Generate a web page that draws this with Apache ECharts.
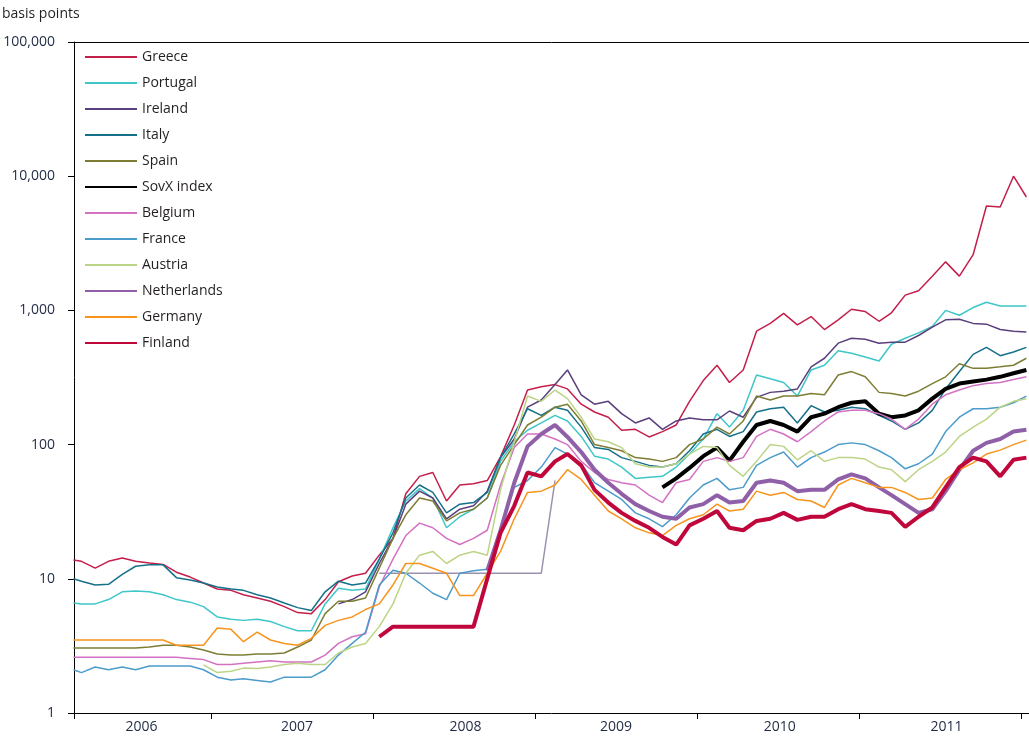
<!DOCTYPE html>
<html><head><meta charset="utf-8">
<script src="https://cdn.jsdelivr.net/npm/echarts@6/dist/echarts.min.js"></script>
<style>html,body{margin:0;padding:0;background:#fff}#c{width:1029px;height:740px}</style>
</head><body><div id="c"></div>
<script>
const dates = ['2006-02-25',
'2006-03-15','2006-04-15','2006-05-15','2006-06-15','2006-07-15','2006-08-15','2006-09-15','2006-10-15','2006-11-15','2006-12-15',
'2007-01-15','2007-02-15','2007-03-15','2007-04-15','2007-05-15','2007-06-15','2007-07-15','2007-08-15','2007-09-15','2007-10-15','2007-11-15','2007-12-15',
'2008-01-15','2008-02-15','2008-03-15','2008-04-15','2008-05-15','2008-06-15','2008-07-15','2008-08-15','2008-09-15','2008-10-15','2008-11-15','2008-12-15',
'2009-01-15','2009-02-15','2009-03-15','2009-04-15','2009-05-15','2009-06-15','2009-07-15','2009-08-15','2009-09-15','2009-10-15','2009-11-15','2009-12-15',
'2010-01-15','2010-02-15','2010-03-15','2010-04-15','2010-05-15','2010-06-15','2010-07-15','2010-08-15','2010-09-15','2010-10-15','2010-11-15','2010-12-15',
'2011-01-15','2011-02-15','2011-03-15','2011-04-15','2011-05-15','2011-06-15','2011-07-15','2011-08-15','2011-09-15','2011-10-15','2011-11-15','2011-12-15',
'2012-01-13'];

const greece = [13.8,13.5,12.0,13.5,14.3,13.5,13.1,12.8,11.2,10.3,9.3,8.4,8.2,7.6,7.2,6.8,6.2,5.6,5.5,7,9.5,10.5,11,15,20,43,58,62,38,50,51,54,81,140,255,270,280,260,200,175,160,128,130,114,125,140,210,300,390,290,360,700,800,950,780,900,720,850,1020,980,830,960,1300,1400,1800,2300,1800,2600,6000,5900,10000,7000];
const portugal = [6.6,6.5,6.5,7.0,8.0,8.1,8,7.6,7.0,6.7,6.2,5.2,5,4.9,5,4.8,4.4,4.1,4.1,6.5,8.5,8.2,8.4,14,24,38,47,40,24,29,33,40,75,105,128,145,165,150,115,82,78,68,56,57,58,68,85,110,170,135,180,330,310,290,230,360,390,500,480,450,420,560,620,680,760,1000,920,1050,1150,1080,1080,1080];
const ireland = [null,null,null,null,null,null,null,null,null,null,null,null,null,null,null,null,null,null,null,null,6.5,7,8,13,20,36,45,40,28,33,35,45,80,110,190,215,280,360,235,200,210,170,145,158,130,150,158,153,153,178,160,225,245,250,260,380,440,570,620,610,570,580,580,650,750,850,860,800,790,720,700,690];
const italy = [10,9.6,9.0,9.1,10.8,12.4,12.7,12.7,10.2,9.8,9.3,8.7,8.4,8.2,7.6,7.2,6.6,6.1,5.8,8,9.6,9,9.3,14,22,40,50,44,31,36,37,44,80,120,185,165,190,180,135,95,92,80,75,70,68,72,90,120,130,115,125,175,185,190,145,195,175,180,190,185,165,150,130,145,180,260,350,470,530,460,490,530];
const spain = [3.05,3.05,3.05,3.05,3.05,3.05,3.1,3.2,3.2,3.1,2.95,2.75,2.7,2.7,2.75,2.75,2.8,3.1,3.5,5.5,6.8,6.8,7.2,12,20,30,40,38,27,31,33,40,70,100,140,160,190,200,150,100,95,90,80,78,75,80,100,110,135,120,150,230,215,230,230,240,235,330,350,320,245,240,230,250,285,320,400,370,370,380,390,440];
const sovx = [null,null,null,null,null,null,null,null,null,null,null,null,null,null,null,null,null,null,null,null,null,null,null,null,null,null,null,null,null,null,null,null,null,null,null,null,null,null,null,null,null,null,null,null,48,56,67,82,95,76,105,140,150,140,125,160,170,190,205,210,170,160,165,180,220,260,285,295,305,320,340,360];
const belgium = [2.6,2.6,2.6,2.6,2.6,2.6,2.6,2.6,2.6,2.55,2.5,2.3,2.3,2.35,2.4,2.45,2.4,2.4,2.4,2.7,3.3,3.7,3.9,8.7,14,21,26,24,20,18,20,23,50,95,120,120,110,100,75,62,55,52,50,42,37,52,55,75,80,75,80,115,130,120,105,125,150,175,180,180,170,155,130,155,200,235,255,275,285,290,305,320];
const france = [2.1,2.0,2.2,2.1,2.2,2.1,2.24,2.24,2.24,2.24,2.1,1.85,1.76,1.8,1.75,1.7,1.85,1.85,1.85,2.1,2.7,3.3,4,9,11.6,11,9.3,7.8,7,11,11.5,11.8,24,48,54,68,95,85,72,52,45,39,31,28,24.5,30,40,50,56,46,48,70,80,88,68,80,88,100,103,100,90,80,66,72,85,125,160,185,185,190,205,230];
const austria = [null,null,null,null,null,null,null,null,null,null,2.28,2.0,2.05,2.16,2.15,2.2,2.3,2.35,2.3,2.3,2.8,3.1,3.3,4.4,6.5,11,15,16,13,15,16,15,46,105,230,210,255,220,160,110,105,95,72,68,68,72,85,97,95,70,58,75,100,97,77,90,75,80,80,78,68,65,53,65,75,88,115,135,155,190,210,220];
const netherlands = [null,null,null,null,null,null,null,null,null,null,null,null,null,null,null,null,null,null,null,null,null,null,null,null,null,null,null,null,null,null,null,11.5,23,52,97,120,140,114,88,65,52,43,36,32,29,28,34,36,42,37,38,52,54,52,45,46,46,55,60,56,48,42,36,31,33,45,65,90,103,110,125,129];
const germany = [3.5,3.5,3.5,3.5,3.5,3.5,3.5,3.5,3.2,3.2,3.2,4.3,4.2,3.4,4.0,3.5,3.3,3.2,3.6,4.5,4.9,5.2,5.9,6.5,9,13,13,12,11,7.5,7.5,11,16,28,44,45,50,65,55,42,32,28,24,22,21,25,28,30,36,32,33,45,42,44,39,38,34,50,56,52,48,48,44,39,40,55,65,73,85,91,100,108];
const finland = [null,null,null,null,null,null,null,null,null,null,null,null,null,null,null,null,null,null,null,null,null,null,null,3.7,4.4,4.4,4.4,4.4,4.4,4.4,4.4,10,22,35,62,58,75,85,70,46,37,31,27,24,20.5,18,25,28,32,24,23,27,28,31,27.5,29,29,33,36,33,32,31,24.4,29,34,48,68,80,75,58,77,80];
const staleQuote = [null,null,null,null,null,null,null,null,null,null,null,null,null,null,null,null,null,null,null,null,null,null,null,11,11,11,11,11,11,11,11,11,11,11,11,11,54,null,null,null,null,null,null,null,null,null,null,null,null,null,null,null,null,null,null,null,null,null,null,null,null,null,null,null,null,null,null,null,null,null,null,null];

const yearLabels = ['2006','2007','2008','2009','2010','2011'];
const yearLabelPos = [2006.57,2007.53,2008.57,2009.5,2010.51,2011.54];
const yearTicks = [2006.154,2007,2008,2009,2010,2011,2012];

function toYear(s){const p=s.split('-').map(Number);const t=Date.UTC(p[0],p[1]-1,p[2]);const a=Date.UTC(p[0],0,1),b=Date.UTC(p[0]+1,0,1);return p[0]+(t-a)/(b-a);}
const xs = dates.map(toYear);

const seriesDefs = [
  ['Greece', greece, '#c41e4a', 1.5],
  ['Portugal', portugal, '#3ec6c8', 1.5],
  ['Ireland', ireland, '#5a3f7d', 1.5],
  ['Italy', italy, '#15708a', 1.5],
  ['Spain', spain, '#7d7d34', 1.5],
  ['SovX index', sovx, '#000000', 4],
  ['Belgium', belgium, '#d372c3', 1.5],
  ['France', france, '#4b9ccb', 1.5],
  ['Austria', austria, '#bcd486', 1.5],
  ['Netherlands', netherlands, '#8f5fa8', 4],
  ['Germany', germany, '#f7941d', 1.5],
  ['Finland', finland, '#c0073c', 4]
];

const font = '"Open Sans", "Noto Sans", sans-serif';
const series = [{
  name: 'stale', type: 'line', data: xs.map((x,i)=>[x, staleQuote[i]]),
  symbol: 'none', showSymbol: false, lineStyle: {color: '#9d90ae', width: 1.5}, itemStyle:{color:'#9d90ae'}, z: 1
}].concat(seriesDefs.map(d => ({
  name: d[0], type: 'line', data: xs.map((x,i)=>[x, d[1][i]]),
  symbol: 'none', showSymbol: false,
  lineStyle: {color: d[2], width: d[3]}, itemStyle: {color: d[2]}
})));

const chart = echarts.init(document.getElementById('c'));
chart.setOption({
  animation: false,
  backgroundColor: '#fff',
  title: {text: 'basis points', left: 2, top: 4, padding: 0, textStyle: {fontSize: 14, fontWeight: 'normal', color: '#231f20', fontFamily: font, lineHeight: 20}},
  legend: {
    data: seriesDefs.map(d => d[0]), orient: 'vertical', left: 84, top: 50, padding: 0,
    itemWidth: 52, itemHeight: 14, itemGap: 12,
    itemStyle: {opacity: 0},
    textStyle: {fontSize: 14, color: '#231f20', fontFamily: font}
  },
  grid: {left: 74, right: 0, top: 42, bottom: 27},
  xAxis: [{
    type: 'value', min: 2006.154, max: 2012.049, position: 'bottom',
    splitLine: {show: false},
    axisLine: {show: true, lineStyle: {color: '#000', width: 1}},
    axisTick: {show: true, customValues: yearTicks, length: 6, lineStyle: {color: '#000'}},
    axisLabel: {customValues: yearLabelPos, formatter: (v) => yearLabels[yearLabelPos.indexOf(v)] || String(Math.floor(v)), fontSize: 14, color: '#1f2a44', fontFamily: font, margin: 7}
  }, {
    type: 'value', min: 2006.154, max: 2012.049, position: 'top',
    splitLine: {show: false},
    axisLine: {show: true, lineStyle: {color: '#000', width: 1}},
    axisTick: {show: false}, axisLabel: {show: false}
  }],
  yAxis: {
    type: 'log', logBase: 10, min: 1, max: 100000,
    splitLine: {show: false},
    axisLine: {show: true, lineStyle: {color: '#000', width: 1}},
    axisTick: {show: true, length: 6, lineStyle: {color: '#000'}},
    minorTick: {show: false},
    axisLabel: {formatter: (v) => Number(v).toLocaleString('en-US'), fontSize: 14, color: '#1f2a44', fontFamily: font, margin: 19}
  },
  series: series
});
</script></body></html>
